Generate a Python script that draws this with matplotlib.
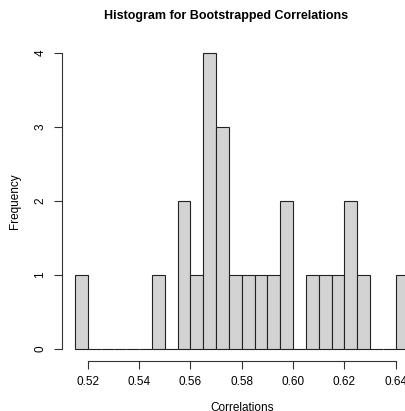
import numpy as np
import matplotlib
matplotlib.use('Agg')
from matplotlib import pyplot as plt

#%% Data (bin width 0.005)
bin_left = [0.515, 0.520, 0.525, 0.530, 0.535, 0.540, 0.545, 0.550, 0.555,
            0.560, 0.565, 0.570, 0.575, 0.580, 0.585, 0.590, 0.595, 0.600,
            0.605, 0.610, 0.615, 0.620, 0.625, 0.630, 0.635, 0.640]
counts = [1, 0, 0, 0, 0, 0, 1, 0, 2,
          1, 4, 3, 1, 1, 1, 1, 2, 0,
          1, 1, 1, 2, 1, 0, 0, 1]
x_ticks = [0.52, 0.54, 0.56, 0.58, 0.60, 0.62, 0.64]
y_ticks = [0, 1, 2, 3, 4]

bw = 0.005
edges = list(bin_left) + [bin_left[-1] + bw]

#%% Plot
plt.rcParams['font.family'] = ['Liberation Sans', 'DejaVu Sans']
fig = plt.figure(figsize=(4.06, 4.11), dpi=100)
ax = fig.add_axes([0.152, 0.1217, 0.887, 0.779])

ax.hist([b + bw / 2 for b in bin_left], bins=edges, weights=counts,
        color='#D3D3D3', edgecolor='#222222', linewidth=0.8)

xr = edges[-1] - edges[0]
ax.set_xlim(edges[0] - 0.04 * xr, edges[-1] + 0.04 * xr)
ax.set_ylim(-0.04 * 4, 4 + 0.04 * 4)

for s in ['top', 'right']:
    ax.spines[s].set_visible(False)
ax.spines['bottom'].set_bounds(x_ticks[0], x_ticks[-1])
ax.spines['left'].set_bounds(y_ticks[0], y_ticks[-1])
for s in ['bottom', 'left']:
    ax.spines[s].set_color('#333333')
    ax.spines[s].set_linewidth(0.8)

ax.set_xticks(x_ticks)
ax.set_xticklabels(['%.2f' % v for v in x_ticks])
ax.set_yticks(y_ticks)
ax.set_yticklabels([str(v) for v in y_ticks], rotation=90, va='center')
ax.tick_params(direction='out', length=6, width=0.8, color='#333333',
               labelsize=8.5, pad=5)

ax.set_xlabel('Correlations', fontsize=8.5, labelpad=10)
ax.set_ylabel('Frequency', fontsize=8.5, labelpad=10)
fig.text(0.557, 0.962, 'Histogram for Bootstrapped Correlations', ha='center',
         va='center', fontsize=9, fontweight='bold')

fig.savefig('out.png', dpi=100)
